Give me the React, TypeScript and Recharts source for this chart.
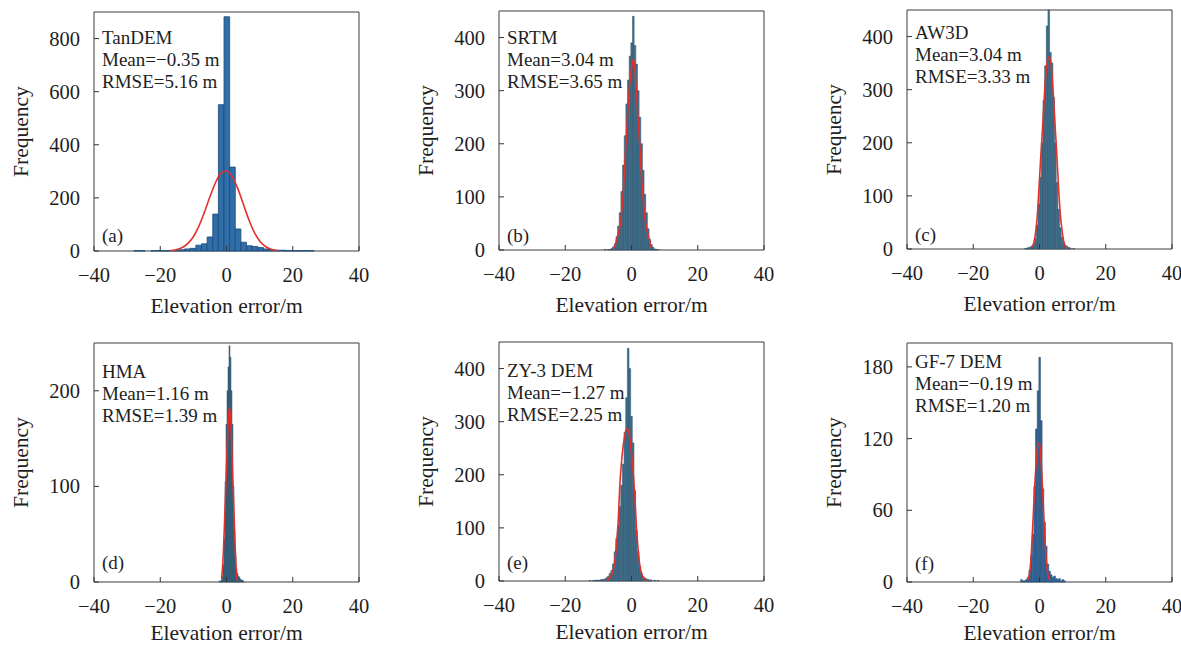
import React from "react";
import { Bar, ComposedChart, Line, ReferenceArea, XAxis, YAxis } from "recharts";

const xTicks = [-40, -20, 0, 20, 40];

// (a) TanDEM, 1.7 m bins
const binsA = [-27.1, -25.4, -23.7, -22.0, -20.3, -18.6, -16.9, -15.2, -13.5, -11.8, -10.1, -8.4, -6.7, -5.0, -3.3, -1.6, 0.1, 1.8, 3.5, 5.2, 6.9, 8.6, 10.3, 12.0, 13.7, 15.4, 17.1, 18.8, 20.5, 22.2, 23.9, 25.6];
const countsA = [1, 1, 0, 1, 2, 1, 2, 3, 5, 8, 10, 22, 27, 53, 139, 551, 882, 316, 83, 33, 20, 17, 13, 8, 5, 3, 3, 2, 1, 1, 2, 1];
const fitXA = [-16.9, -15.2, -13.5, -11.8, -10.1, -8.4, -6.7, -5.0, -3.3, -1.6, 0.1, 1.8, 3.5, 5.2, 6.9, 8.6, 10.3, 12.0, 13.7, 15.4];
const fitYA = [2, 5, 12, 27, 52, 92, 145, 204, 258, 294, 301, 278, 232, 172, 113, 65, 33, 15, 6, 2];
const yTicksA = [0, 200, 400, 600, 800];

// (b) SRTM, 0.5 m bins
const binsB = [-7.95, -6.95, -6.45, -5.95, -5.45, -4.95, -4.45, -3.95, -3.45, -2.95, -2.45, -1.95, -1.45, -0.95, -0.45, 0.05, 0.55, 1.05, 1.55, 2.05, 2.55, 3.05, 3.55, 4.05, 4.55, 5.05, 5.55, 6.05, 6.55, 7.05, 7.55, 8.05];
const countsB = [1, 1, 1, 3, 6, 12, 25, 45, 70, 110, 160, 215, 275, 320, 365, 390, 440, 385, 350, 300, 250, 200, 150, 105, 70, 40, 20, 10, 5, 2, 1, 1];
const fitXB = [-5.45, -4.95, -4.45, -3.95, -3.45, -2.95, -2.45, -1.95, -1.45, -0.95, -0.45, 0.05, 0.55, 1.05, 1.55, 2.05, 2.55, 3.05, 3.55, 4.05, 4.55, 5.05, 5.55, 6.05];
const fitYB = [2, 8, 20, 32, 45, 72, 112, 170, 225, 282, 318, 345, 360, 337, 290, 240, 190, 135, 95, 60, 40, 28, 15, 3];
const yTicksB = [0, 100, 200, 300, 400];

// (c) AW3D, 0.5 m bins
const binsC = [-4.2, -3.7, -3.2, -2.7, -2.2, -1.7, -1.2, -0.7, -0.2, 0.3, 0.8, 1.3, 1.8, 2.3, 2.8, 3.3, 3.8, 4.3, 4.8, 5.3, 5.8, 6.3, 6.8, 7.3, 7.8, 8.3, 8.8, 9.3, 10.3];
const countsC = [1, 2, 3, 4, 6, 10, 20, 45, 85, 135, 200, 280, 345, 420, 450, 370, 350, 285, 200, 125, 75, 40, 22, 12, 7, 5, 3, 2, 1];
const fitXC = [-2.2, -1.7, -1.2, -0.7, -0.2, 0.3, 0.8, 1.3, 1.8, 2.3, 2.8, 3.3, 3.8, 4.3, 4.8, 5.3, 5.8, 6.3, 6.8, 7.3, 7.8, 8.3];
const fitYC = [4, 12, 30, 60, 110, 165, 215, 270, 320, 350, 362, 355, 325, 278, 222, 170, 110, 65, 35, 15, 5, 1];
const yTicksC = [0, 100, 200, 300, 400];

// (d) HMA, 0.3 m bins
const binsD = [-2.1, -1.8, -1.5, -1.2, -0.9, -0.6, -0.3, 0.0, 0.3, 0.6, 0.9, 1.2, 1.5, 1.8, 2.1, 2.4, 2.7, 3.0, 3.3, 3.6, 3.9, 4.2, 4.5, 4.8, 5.1];
const countsD = [1, 1, 2, 6, 18, 45, 105, 165, 200, 225, 247, 235, 200, 165, 100, 55, 28, 14, 9, 6, 5, 3, 2, 2, 1];
const fitXD = [-1.5, -1.2, -0.9, -0.6, -0.3, 0.0, 0.3, 0.6, 0.9, 1.2, 1.5, 1.8, 2.1, 2.4, 2.7, 3.0, 3.3];
const fitYD = [3, 15, 35, 62, 92, 122, 150, 172, 183, 172, 148, 118, 88, 58, 30, 10, 1];
const yTicksD = [0, 100, 200];

// (e) ZY-3 DEM, 0.5 m bins
const binsE = [-12.5, -11.5, -11.0, -10.5, -10.0, -9.5, -9.0, -8.5, -8.0, -7.5, -7.0, -6.5, -6.0, -5.5, -5.0, -4.5, -4.0, -3.5, -3.0, -2.5, -2.0, -1.5, -1.0, -0.5, 0.0, 0.5, 1.0, 1.5, 2.0, 2.5, 3.0, 3.5, 4.0, 4.5, 5.0, 5.5, 6.0, 7.0, 8.0];
const countsE = [1, 1, 1, 2, 1, 2, 3, 3, 4, 6, 9, 14, 20, 32, 55, 80, 105, 140, 180, 220, 280, 345, 438, 400, 310, 260, 170, 95, 55, 28, 15, 9, 6, 4, 3, 2, 2, 1, 1];
const fitXE = [-7.5, -7.0, -6.5, -6.0, -5.5, -5.0, -4.5, -4.0, -3.5, -3.0, -2.5, -2.0, -1.5, -1.0, -0.5, 0.0, 0.5, 1.0, 1.5, 2.0, 2.5, 3.0, 3.5, 4.0, 4.5];
const fitYE = [1, 3, 6, 12, 22, 40, 72, 115, 183, 225, 255, 275, 287, 284, 268, 240, 205, 160, 100, 60, 30, 15, 7, 3, 1];
const yTicksE = [0, 100, 200, 300, 400];

// (f) GF-7 DEM, 0.5 m bins
const binsF = [-5.45, -4.95, -4.45, -3.95, -3.45, -2.95, -2.45, -1.95, -1.45, -0.95, -0.45, 0.05, 0.55, 1.05, 1.55, 2.05, 2.55, 3.05, 3.55, 4.05, 4.55, 5.05, 5.55, 6.05, 6.55, 7.05, 7.55];
const countsF = [2, 1, 1, 2, 4, 10, 22, 40, 80, 128, 160, 188, 135, 78, 50, 30, 15, 9, 6, 4, 5, 3, 2, 3, 1, 2, 1];
const fitXF = [-3.45, -2.95, -2.45, -1.95, -1.45, -0.95, -0.45, 0.05, 0.55, 1.05, 1.55, 2.05, 2.55, 3.05];
const fitYF = [2, 8, 25, 52, 80, 102, 116, 115, 98, 70, 40, 18, 6, 2];
const yTicksF = [0, 60, 120, 180];

const FONT = '"Liberation Serif", "Times New Roman", serif';
const INK = "#1e1e1e";
const PLOT_W = 265;
const PLOT_H = 239;
const LEFT_W = 94;
const AXIS_H = 70;

function buildRows(bins: number[], counts: number[], fitX: number[], fitY: number[]) {
  return bins.map((x, i) => {
    const j = fitX.indexOf(x);
    return { x, n: counts[i], fit: j >= 0 ? fitY[j] : null };
  });
}

const minus = (v: number) => String(v).replace("-", "\u2212");

const XTick = (props: any) => {
  const { x, y, payload } = props;
  return (
    <g>
      <line x1={x} x2={x} y1={y} y2={y - 5} stroke="#333" strokeWidth={1} />
      <text x={x} y={y + 31} textAnchor="middle" fontFamily={FONT} fontSize={20.5} fill={INK}>
        {minus(payload.value)}
      </text>
    </g>
  );
};

const YTick = (props: any) => {
  const { x, y, payload } = props;
  return (
    <g>
      <line x1={x} x2={x + 5} y1={y} y2={y} stroke="#333" strokeWidth={1} />
      <text x={x - 14} y={y} dy="0.34em" textAnchor="end" fontFamily={FONT} fontSize={20.5} fill={INK}>
        {payload.value}
      </text>
    </g>
  );
};

type PanelProps = {
  left: number;
  top: number;
  rows: any[];
  yMax: number;
  yTicks: number[];
  binW: number;
  lines: string[];
  tag: string;
  noteY: number;
  tagY: number;
  labelOffset: number;
  fill: string;
  edge: string;
  edgeW: number;
};

function Panel({ left, top, rows, yMax, yTicks, binW, lines, tag, noteY, tagY, labelOffset, fill, edge, edgeW }: PanelProps) {
  const barSize = (binW * PLOT_W) / 80 - 0.01;
  const notes = (p: any) => {
    const vb = p.viewBox || {};
    return (
      <g fontFamily={FONT} fontSize={19} fill={INK}>
        {lines.map((t, i) => (
          <text key={i} x={vb.x + 8} y={vb.y + noteY + i * 22}>
            {t}
          </text>
        ))}
        <text x={vb.x + 8} y={vb.y + vb.height - tagY}>
          {tag}
        </text>
      </g>
    );
  };
  return (
    <div style={{ position: "absolute", left: left - LEFT_W, top: top - 11 }}>
      <ComposedChart
        width={LEFT_W + PLOT_W + 14}
        height={11 + PLOT_H + AXIS_H}
        data={rows}
        margin={{ top: 11, right: 14, bottom: 0, left: 0 }}
      >
        <XAxis
          dataKey="x"
          type="number"
          domain={[-40, 40]}
          ticks={xTicks}
          height={AXIS_H}
          axisLine={false}
          tickLine={false}
          tickSize={0}
          tickMargin={0}
          tick={<XTick />}
          interval={0}
          label={{ value: "Elevation error/m", position: "insideBottom", offset: labelOffset, fontFamily: FONT, fontSize: 21.5, fill: INK }}
        />
        <YAxis
          type="number"
          domain={[0, yMax]}
          ticks={yTicks}
          width={LEFT_W}
          axisLine={false}
          tickLine={false}
          tickSize={0}
          tickMargin={0}
          tick={<YTick />}
          interval={0}
          label={{
            value: "Frequency",
            angle: -90,
            position: "insideLeft",
            offset: 20,
            fontFamily: FONT,
            fontSize: 21.5,
            fill: INK,
            style: { textAnchor: "middle" },
          }}
        />
        <Bar dataKey="n" fill={fill} stroke={edge} strokeWidth={edgeW} barSize={barSize} isAnimationActive={false} />
        <Line
          dataKey="fit"
          type="monotone"
          stroke="#e2312c"
          strokeWidth={1.6}
          dot={false}
          connectNulls
          isAnimationActive={false}
        />
        <ReferenceArea x1={-40} x2={40} y1={0} y2={yMax} fill="none" stroke="#3a3a3a" strokeWidth={1} label={notes} />
      </ComposedChart>
    </div>
  );
}

export default function App() {
  const teal = { fill: "#3f7597", edge: "#2b4a5e", edgeW: 0.5 };
  return (
    <div style={{ position: "absolute", left: 0, top: 0, width: 1181, height: 645, background: "#fff" }}>
      <Panel left={94} top={12} rows={buildRows(binsA, countsA, fitXA, fitYA)} yMax={900} yTicks={yTicksA} binW={1.7}
        lines={["TanDEM", "Mean=\u22120.35 m", "RMSE=5.16 m"]} tag="(a)" noteY={32} tagY={9.5} labelOffset={8}
        fill="#2f6ea8" edge="#1d4a78" edgeW={0.8} />
      <Panel left={499} top={11} rows={buildRows(binsB, countsB, fitXB, fitYB)} yMax={450} yTicks={yTicksB} binW={0.5}
        lines={["SRTM", "Mean=3.04 m", "RMSE=3.65 m"]} tag="(b)" noteY={33} tagY={8} labelOffset={8} {...teal} />
      <Panel left={907} top={10} rows={buildRows(binsC, countsC, fitXC, fitYC)} yMax={450} yTicks={yTicksC} binW={0.5}
        lines={["AW3D", "Mean=3.04 m", "RMSE=3.33 m"]} tag="(c)" noteY={29} tagY={8} labelOffset={8} {...teal} />
      <Panel left={94} top={343} rows={buildRows(binsD, countsD, fitXD, fitYD)} yMax={250} yTicks={yTicksD} binW={0.3}
        lines={["HMA", "Mean=1.16 m", "RMSE=1.39 m"]} tag="(d)" noteY={35} tagY={13} labelOffset={12} {...teal} />
      <Panel left={499} top={342} rows={buildRows(binsE, countsE, fitXE, fitYE)} yMax={450} yTicks={yTicksE} binW={0.5}
        lines={["ZY-3 DEM", "Mean=\u22121.27 m", "RMSE=2.25 m"]} tag="(e)" noteY={35} tagY={12} labelOffset={12} {...teal} />
      <Panel left={907} top={343} rows={buildRows(binsF, countsF, fitXF, fitYF)} yMax={200} yTicks={yTicksF} binW={0.5}
        lines={["GF-7 DEM", "Mean=\u22120.19 m", "RMSE=1.20 m"]} tag="(f)" noteY={25} tagY={12} labelOffset={12}
        fill="#2d6aa5" edge="#28486a" edgeW={0.5} />
    </div>
  );
}
